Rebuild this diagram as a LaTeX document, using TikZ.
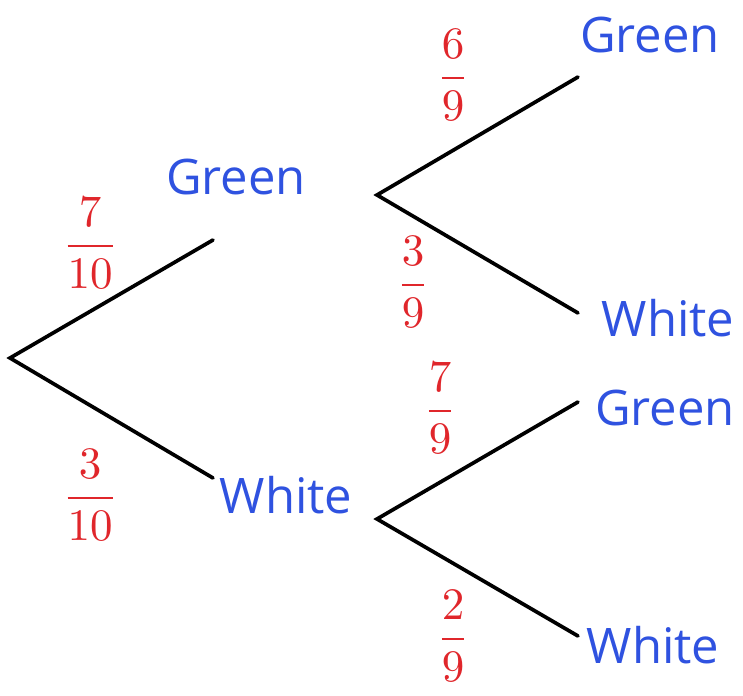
\documentclass[tikz,border=0pt]{standalone}
\usepackage{amsmath}
\usepackage{fontspec}
\setsansfont{Open Sans}
\definecolor{ballblue}{RGB}{47,82,224}
\definecolor{probred}{RGB}{224,38,43}
\newcommand{\probfrac}[2]{\scalebox{4.5}{$\dfrac{#1}{#2}$}}
\begin{document}
\begin{tikzpicture}[x={(1pt,0pt)}, y={(0pt,-1pt)},
	outcome/.style={text=ballblue, font=\fontsize{49}{55}\selectfont\sffamily, inner sep=0pt},
	prob/.style={text=probred, inner sep=0pt},
	branch/.style={line width=3.7pt, line cap=round, line join=miter}]
	\useasboundingbox (0,0) rectangle (743,695);
	
	% Branch points
	\coordinate (root) at (10,358);
	\coordinate (G) at (377,195);
	\coordinate (W) at (377,519);
	
	% Line ends
	\coordinate (Gend) at (213,240);
	\coordinate (Wend) at (213,478);
	\coordinate (GGend) at (578,77);
	\coordinate (GWend) at (578,313);
	\coordinate (WGend) at (578,402);
	\coordinate (WWend) at (578,636);
	
	% First draw
	\draw[branch] (Gend) -- (root) -- (Wend);
	
	% Second draw
	\draw[branch] (GGend) -- (G) -- (GWend);
	\draw[branch] (WGend) -- (W) -- (WWend);
	
	% Outcomes
	\node[outcome] (green1) at (236,177) {Green};
	\node[outcome] (white1) at (286,495) {White};
	\node[outcome] (greengreen) at (650,35) {Green};
	\node[outcome] (greenwhite) at (668,318) {White};
	\node[outcome] (whitegreen) at (665,408) {Green};
	\node[outcome] (whitewhite) at (653,645) {White};
	
	% Probabilities
	\node[prob] (p1) at (90,243) {\probfrac{7}{10}};
	\node[prob] (p2) at (90,495) {\probfrac{3}{10}};
	\node[prob] (p3) at (453,75) {\probfrac{6}{9}};
	\node[prob] (p4) at (413,282) {\probfrac{3}{9}};
	\node[prob] (p5) at (440,408) {\probfrac{7}{9}};
	\node[prob] (p6) at (453,636) {\probfrac{2}{9}};
\end{tikzpicture}
\end{document}
